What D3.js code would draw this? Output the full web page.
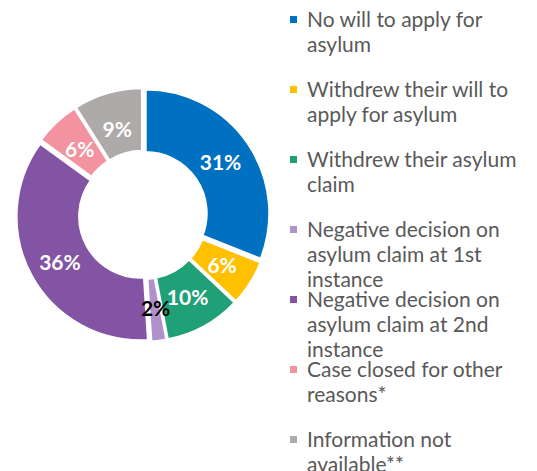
<!DOCTYPE html>
<html>
<head>
<meta charset="utf-8">
<script src="https://cdn.jsdelivr.net/npm/d3@7"></script>
<style>
  body { margin: 0; background: #fff; }
  text { font-family: Lato, "Open Sans", sans-serif; }
</style>
</head>
<body>
<script>
const categories = [
  ["No will to apply for", "asylum"],
  ["Withdrew their will to", "apply for asylum"],
  ["Withdrew their asylum", "claim"],
  ["Negative decision on", "asylum claim at 1st", "instance"],
  ["Negative decision on", "asylum claim at 2nd", "instance"],
  ["Case closed for other", "reasons*"],
  ["Information not", "available**"]
];
const values = [31, 6, 10, 2, 36, 6, 9];
const labels = ["31%", "6%", "10%", "2%", "36%", "6%", "9%"];
const colors = ["#0070C0", "#FFC000", "#1FA077", "#B191CC", "#8454A4", "#F2939F", "#ADAAA9"];
const labelColors = ["#fff", "#fff", "#fff", "#000", "#fff", "#fff", "#fff"];

const svg = d3.select("body").append("svg")
  .attr("width", 537)
  .attr("height", 471);

const cx = 143, cy = 215;
const outer = 124, inner = 61;
const explode = 3;

const pie = d3.pie().sort(null).value(d => d);
const arcs = pie(values);
const arc = d3.arc().innerRadius(inner).outerRadius(outer);
const labelArc = d3.arc().innerRadius((inner + outer) / 2).outerRadius((inner + outer) / 2);

const g = svg.append("g").attr("transform", "translate(" + cx + "," + cy + ")");

g.selectAll("path")
  .data(arcs)
  .enter()
  .append("path")
  .attr("d", arc)
  .attr("fill", (d, i) => colors[i])
  .attr("stroke", "#fff")
  .attr("stroke-width", 2.5)
  .attr("transform", d => {
    const a = (d.startAngle + d.endAngle) / 2;
    return "translate(" + (Math.sin(a) * explode) + "," + (-Math.cos(a) * explode) + ")";
  });

// label tweaks (small slices sit off-centre)
const labelShift = [[1, 0], [1, 1], [0, 2], [1, 2], [-2, 3], [0, 2], [0, 3]];

g.selectAll("text.val")
  .data(arcs)
  .enter()
  .append("text")
  .attr("class", "val")
  .attr("x", (d, i) => labelArc.centroid(d)[0] + labelShift[i][0])
  .attr("y", (d, i) => labelArc.centroid(d)[1] + labelShift[i][1])
  .attr("dy", "0.35em")
  .attr("text-anchor", "middle")
  .attr("font-size", 21)
  .attr("font-weight", "bold")
  .attr("fill", (d, i) => labelColors[i])
  .text((d, i) => labels[i]);

// Legend
const legend = svg.append("g");
const items = legend.selectAll("g")
  .data(categories)
  .enter()
  .append("g")
  .attr("transform", (d, i) => "translate(0," + (27 + i * 70) + ")");

items.append("rect")
  .attr("x", 290)
  .attr("y", -11)
  .attr("width", 7)
  .attr("height", 7)
  .attr("fill", (d, i) => colors[i]);

items.append("text")
  .attr("x", 307)
  .attr("font-size", 21)
  .attr("fill", "#595959")
  .selectAll("tspan")
  .data(d => d)
  .enter()
  .append("tspan")
  .attr("x", 307)
  .attr("dy", (d, i) => i === 0 ? 0 : 25)
  .text(d => d);
</script>
</body>
</html>
